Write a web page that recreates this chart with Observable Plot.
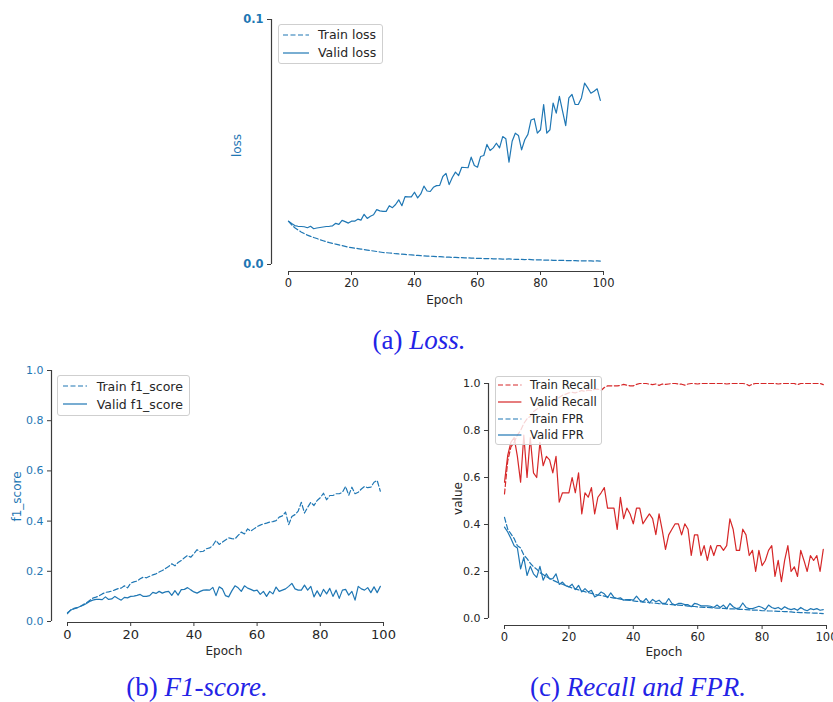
<!DOCTYPE html>
<html><head><meta charset="utf-8">
<script src="https://cdn.jsdelivr.net/npm/d3@7"></script>
<script src="https://cdn.jsdelivr.net/npm/@observablehq/plot@0.6"></script>
<style>
html,body{margin:0;padding:0;background:#fff;}
#fig{position:relative;width:833px;height:702px;font-family:"DejaVu Sans",sans-serif;}
.panel{position:absolute;}
.panel svg{overflow:visible;display:block;max-width:none !important;}
.legend{position:absolute;box-sizing:border-box;background:rgba(255,255,255,0.8);border:1px solid #cfcfcf;border-radius:3px;font-family:"DejaVu Sans",sans-serif;color:#262626;white-space:nowrap;}
.legend .row{display:flex;align-items:center;}
.legend svg{display:block;flex:none;}
.cap{position:absolute;font-family:"Liberation Serif",serif;color:#2323e6;white-space:nowrap;line-height:1;padding:0 4px;transform:translate(-50%,-50%);}
</style>
</head><body><div id="fig"></div>
<script>
// ---------- data ----------
const epochs = d3.range(0, 100);
const xTicks = [0, 20, 40, 60, 80, 100];
const lossTicks = [0, 0.1];
const unitTicks = [0, 0.2, 0.4, 0.6, 0.8, 1.0];

const trainLoss = [0.0176,0.0162,0.0150,0.0141,0.0133,0.0126,0.0120,0.0115,0.0110,0.0106,
0.0101,0.0097,0.0093,0.0089,0.0086,0.0083,0.0080,0.0077,0.0074,0.0071,
0.0069,0.0067,0.0065,0.0063,0.0061,0.0059,0.0057,0.0055,0.0053,0.0051,
0.0049,0.0048,0.0047,0.0046,0.0044,0.0043,0.0042,0.0041,0.0040,0.0039,
0.0038,0.0037,0.0036,0.0035,0.0034,0.0034,0.0033,0.0032,0.0032,0.0031,
0.0030,0.0030,0.0029,0.0029,0.0028,0.0028,0.0027,0.0027,0.0026,0.0026,
0.0025,0.0025,0.0024,0.0024,0.0024,0.0023,0.0023,0.0023,0.0022,0.0022,
0.0023,0.0022,0.0021,0.0021,0.0021,0.0020,0.0021,0.0020,0.0019,0.0019,
0.0019,0.0018,0.0018,0.0018,0.0017,0.0017,0.0017,0.0017,0.0016,0.0016,
0.0016,0.0016,0.0015,0.0015,0.0015,0.0015,0.0015,0.0014,0.0015,0.0014];
const validLoss = [0.0177,0.0167,0.0159,0.0156,0.0155,0.0154,0.0150,0.0156,0.0146,0.0149,
0.0151,0.0153,0.0155,0.0156,0.0158,0.0168,0.0164,0.0180,0.0175,0.0169,
0.0177,0.0177,0.0185,0.0181,0.0205,0.0188,0.0197,0.0203,0.0224,0.0219,
0.0217,0.0217,0.0240,0.0232,0.0245,0.0264,0.0240,0.0277,0.0276,0.0276,
0.0295,0.0272,0.0288,0.0320,0.0300,0.0298,0.0315,0.0322,0.0323,0.0359,
0.0372,0.0326,0.0355,0.0377,0.0363,0.0397,0.0396,0.0395,0.0438,0.0404,
0.0397,0.0441,0.0445,0.0490,0.0465,0.0476,0.0495,0.0476,0.0522,0.0513,
0.0418,0.0503,0.0536,0.0527,0.0468,0.0509,0.0531,0.0590,0.0595,0.0536,
0.0550,0.0653,0.0536,0.0550,0.0659,0.0618,0.0686,0.0626,0.0567,0.0680,
0.0694,0.0653,0.0653,0.0680,0.0740,0.0721,0.0699,0.0707,0.0717,0.0670];

const trainF1 = [0.031,0.046,0.050,0.054,0.060,0.068,0.074,0.084,0.093,0.097,
0.102,0.110,0.116,0.118,0.121,0.126,0.131,0.133,0.142,0.134,
0.153,0.158,0.161,0.170,0.177,0.174,0.180,0.186,0.190,0.197,
0.203,0.211,0.219,0.230,0.222,0.235,0.243,0.254,0.263,0.256,
0.270,0.286,0.278,0.280,0.290,0.293,0.303,0.323,0.307,0.316,
0.325,0.333,0.330,0.329,0.343,0.356,0.349,0.369,0.360,0.369,
0.378,0.384,0.389,0.392,0.396,0.398,0.402,0.416,0.421,0.436,
0.386,0.418,0.426,0.440,0.475,0.432,0.455,0.475,0.462,0.482,
0.493,0.511,0.485,0.502,0.502,0.509,0.509,0.515,0.538,0.503,
0.535,0.509,0.515,0.528,0.538,0.533,0.535,0.555,0.562,0.519];
const validF1 = [0.035,0.045,0.052,0.055,0.060,0.065,0.072,0.080,0.085,0.088,
0.088,0.087,0.098,0.088,0.090,0.100,0.092,0.085,0.096,0.094,
0.100,0.101,0.104,0.108,0.100,0.100,0.103,0.116,0.112,0.120,
0.113,0.118,0.120,0.104,0.123,0.105,0.127,0.128,0.135,0.126,
0.118,0.113,0.120,0.125,0.126,0.125,0.136,0.103,0.138,0.130,
0.103,0.098,0.122,0.142,0.134,0.120,0.142,0.133,0.128,0.122,
0.125,0.108,0.120,0.100,0.120,0.110,0.137,0.120,0.125,0.130,
0.140,0.152,0.130,0.125,0.125,0.145,0.125,0.140,0.098,0.122,
0.100,0.128,0.110,0.132,0.100,0.125,0.092,0.125,0.128,0.105,
0.120,0.085,0.140,0.130,0.125,0.135,0.115,0.138,0.115,0.140];

const trainRecall = [0.53,0.67,0.73,0.75,0.78,0.80,0.83,0.85,0.86,0.88,
0.89,0.90,0.91,0.905,0.92,0.93,0.935,0.94,0.95,0.955,
0.96,0.962,0.96,0.965,0.97,0.967,0.972,0.97,0.975,0.976,
0.97,0.983,0.99,0.99,0.99,0.99,0.992,0.996,0.993,0.99,
0.99,0.996,1.0,1.0,1.0,0.997,0.995,0.998,0.992,0.998,
0.996,0.998,1.0,1.0,0.998,0.997,0.993,0.998,1.0,1.0,
0.998,1.0,1.0,1.0,1.0,1.0,1.0,1.0,1.0,0.998,
1.0,1.0,1.0,1.0,1.0,0.998,0.99,0.998,1.0,1.0,
1.0,1.0,1.0,1.0,1.0,0.998,1.0,1.0,1.0,1.0,
1.0,0.995,1.0,1.0,1.0,1.0,1.0,1.0,1.0,0.995];
const validRecall = [0.58,0.694,0.75,0.77,0.69,0.58,0.78,0.60,0.77,0.62,
0.60,0.75,0.65,0.69,0.675,0.62,0.69,0.495,0.535,0.535,
0.535,0.60,0.535,0.62,0.445,0.535,0.516,0.557,0.445,0.516,
0.535,0.557,0.47,0.47,0.47,0.379,0.516,0.425,0.47,0.445,
0.403,0.47,0.47,0.403,0.425,0.445,0.425,0.357,0.445,0.375,
0.294,0.356,0.38,0.403,0.403,0.356,0.403,0.38,0.268,0.356,
0.356,0.268,0.31,0.247,0.31,0.268,0.31,0.31,0.29,0.31,
0.424,0.38,0.29,0.29,0.38,0.356,0.268,0.29,0.2,0.29,
0.225,0.247,0.29,0.31,0.179,0.247,0.157,0.247,0.31,0.2,
0.22,0.179,0.29,0.247,0.2,0.268,0.247,0.268,0.2,0.294];
const trainFPR = [0.43,0.38,0.36,0.34,0.31,0.30,0.27,0.255,0.235,0.22,
0.21,0.195,0.187,0.178,0.17,0.163,0.157,0.15,0.146,0.14,
0.135,0.13,0.126,0.122,0.117,0.114,0.11,0.107,0.103,0.1,
0.098,0.095,0.092,0.09,0.087,0.085,0.082,0.08,0.078,0.077,
0.075,0.073,0.072,0.07,0.069,0.067,0.066,0.065,0.063,0.062,
0.061,0.060,0.059,0.058,0.057,0.056,0.055,0.053,0.052,0.051,
0.049,0.048,0.047,0.047,0.046,0.045,0.044,0.044,0.043,0.042,
0.041,0.041,0.040,0.039,0.039,0.038,0.037,0.036,0.036,0.035,
0.033,0.033,0.032,0.032,0.031,0.030,0.030,0.029,0.029,0.028,
0.026,0.026,0.025,0.025,0.024,0.024,0.023,0.023,0.022,0.021];
const validFPR = [0.389,0.368,0.34,0.31,0.30,0.211,0.26,0.183,0.222,0.19,
0.175,0.222,0.163,0.19,0.168,0.17,0.19,0.145,0.155,0.14,
0.134,0.146,0.123,0.141,0.113,0.127,0.113,0.12,0.092,0.099,
0.113,0.105,0.089,0.109,0.09,0.085,0.088,0.078,0.08,0.08,
0.078,0.095,0.078,0.071,0.085,0.066,0.081,0.071,0.078,0.064,
0.064,0.085,0.064,0.057,0.064,0.064,0.059,0.059,0.05,0.064,
0.061,0.054,0.054,0.054,0.052,0.047,0.057,0.047,0.057,0.042,
0.064,0.05,0.042,0.045,0.066,0.047,0.042,0.042,0.047,0.052,
0.047,0.038,0.057,0.047,0.042,0.047,0.038,0.05,0.042,0.038,
0.042,0.035,0.047,0.038,0.033,0.042,0.038,0.042,0.035,0.038];

// ---------- style ----------
const BLUE = "#1f77b4", RED = "#d62728", SPINE = "#3c3c3c", TEXT = "#262626";
const fig = document.getElementById("fig");

function panel(p) {
  const rows = p.series.flatMap(s => s.values.map((v, i) => ({epoch: epochs[i], value: v, series: s.label})));
  const x0 = xTicks[0], x1 = xTicks[xTicks.length - 1];
  const y0 = p.yTicks[0], y1 = p.yTicks[p.yTicks.length - 1];
  const svg = Plot.plot({
    width: p.width, height: p.height,
    marginLeft: p.ml, marginRight: p.mr, marginTop: p.mt, marginBottom: p.mb,
    style: {fontFamily: "DejaVu Sans", overflow: "visible", background: "transparent", color: TEXT, maxWidth: "none"},
    x: {domain: [x0, x1], insetLeft: p.il, insetRight: p.ir},
    y: {domain: [y0, y1], insetTop: p.it, insetBottom: p.ib},
    marks: [
      Plot.ruleY([y0], {x1: x0, x2: x1, dy: p.ib, stroke: SPINE, strokeWidth: 1.2}),
      Plot.ruleX([x0], {y1: y0, y2: y1, dx: -p.il, stroke: SPINE, strokeWidth: 1.2}),
      Plot.axisX({ticks: xTicks, tickSize: 4, tickPadding: 3, stroke: SPINE, fill: TEXT, fontSize: p.xTickFont, tickFormat: d => String(d), label: null}),
      Plot.axisX({ticks: [], label: "Epoch", labelAnchor: "center", labelArrow: "none", labelOffset: p.xlo, fill: TEXT, fontSize: p.labelFont}),
      Plot.axisY({ticks: p.yTicks, tickFormat: d3.format(".1f"), tickSize: 4, tickPadding: 4, stroke: SPINE, fill: p.yTickColor, fontWeight: p.yTickWeight || "normal", fontSize: p.yTickFont, label: null}),
      Plot.axisY({ticks: [], label: p.yLabel, labelAnchor: "center", labelArrow: "none", labelOffset: p.ylo, fill: p.yLabelColor, fontSize: p.labelFont}),
      ...p.series.map(s => Plot.line(rows.filter(r => r.series === s.label), {
        x: "epoch", y: "value", stroke: s.color, strokeWidth: 1.2,
        strokeDasharray: s.dash ? "5,2.5" : null
      }))
    ]
  });
  const wrap = document.createElement("div");
  wrap.className = "panel";
  wrap.style.left = p.left + "px"; wrap.style.top = p.top + "px";
  wrap.style.width = p.width + "px"; wrap.style.height = p.height + "px";
  wrap.appendChild(svg);
  fig.appendChild(wrap);

  // legend
  const L = p.legend;
  const lg = document.createElement("div");
  lg.className = "legend";
  Object.assign(lg.style, {left: L.left + "px", top: L.top + "px", width: L.w + "px", height: L.h + "px",
    paddingTop: L.padTop + "px", paddingLeft: L.padLeft + "px", fontSize: L.font + "px"});
  for (const s of p.series) {
    const r = document.createElement("div");
    r.className = "row";
    r.style.height = L.rowH + "px";
    r.innerHTML = `<svg width="${L.lineW}" height="6"><line x1="0" x2="${L.lineW}" y1="3" y2="3" stroke="${s.color}" stroke-width="1.2" ${s.dash ? 'stroke-dasharray="5,2.5"' : ""}/></svg><span style="margin-left:${L.gap}px">${s.label}</span>`;
    lg.appendChild(r);
  }
  fig.appendChild(lg);
}

panel({
  left: 200, top: 0, width: 420, height: 310, ml: 71, mr: 3, mt: 19, mb: 39, il: 17, ir: 14, it: 0, ib: 7,
  yTicks: lossTicks, yLabel: "loss", yTickColor: BLUE, yTickWeight: "bold", yLabelColor: BLUE,
  xlo: 32, ylo: 39, xTickFont: 11.5, yTickFont: 11.5, labelFont: 12,
  series: [
    {label: "Train loss", values: trainLoss, color: BLUE, dash: true},
    {label: "Valid loss", values: validLoss, color: BLUE, dash: false}
  ],
  legend: {left: 278, top: 24, w: 105, h: 40, rowH: 18, padTop: 0.5, padLeft: 4, lineW: 26, gap: 9, font: 12.5}
});

panel({
  left: 0, top: 350, width: 400, height: 310, ml: 51, mr: 4.2, mt: 20, mb: 38, il: 16, ir: 12.8, it: 0, ib: 1,
  yTicks: unitTicks, yLabel: "f1_score", yTickColor: BLUE, yLabelColor: BLUE,
  xlo: 32, ylo: 39, xTickFont: 13, yTickFont: 11, labelFont: 12,
  series: [
    {label: "Train f1_score", values: trainF1, color: BLUE, dash: true},
    {label: "Valid f1_score", values: validF1, color: BLUE, dash: false}
  ],
  legend: {left: 57, top: 375, w: 133, h: 41, rowH: 18, padTop: 1, padLeft: 4.7, lineW: 24.6, gap: 9.4, font: 12.5}
});

panel({
  left: 432, top: 355, width: 410, height: 310, ml: 56, mr: 3.2, mt: 16, mb: 40, il: 16, ir: 12.8, it: 12, ib: 7,
  yTicks: unitTicks, yLabel: "value", yTickColor: TEXT, yLabelColor: TEXT,
  xlo: 30, ylo: 35, xTickFont: 11.5, yTickFont: 11, labelFont: 12,
  series: [
    {label: "Train Recall", values: trainRecall, color: RED, dash: true},
    {label: "Valid Recall", values: validRecall, color: RED, dash: false},
    {label: "Train FPR", values: trainFPR, color: BLUE, dash: true},
    {label: "Valid FPR", values: validFPR, color: BLUE, dash: false}
  ],
  legend: {left: 495, top: 376, w: 107, h: 69, rowH: 16.7, padTop: 0, padLeft: 2.3, lineW: 23.4, gap: 8.3, font: 11.7}
});

// captions
const captions = [
  {tag: "(a)", title: "Loss.", x: 419, y: 340},
  {tag: "(b)", title: "F1-score.", x: 197, y: 687},
  {tag: "(c)", title: "Recall and FPR.", x: 638, y: 687}
];
for (const c of captions) {
  const d = document.createElement("div");
  d.className = "cap";
  d.style.left = c.x + "px"; d.style.top = c.y + "px"; d.style.fontSize = "27px";
  d.innerHTML = `${c.tag}&nbsp;<i>${c.title}</i>`;
  fig.appendChild(d);
}
</script>
</body></html>
